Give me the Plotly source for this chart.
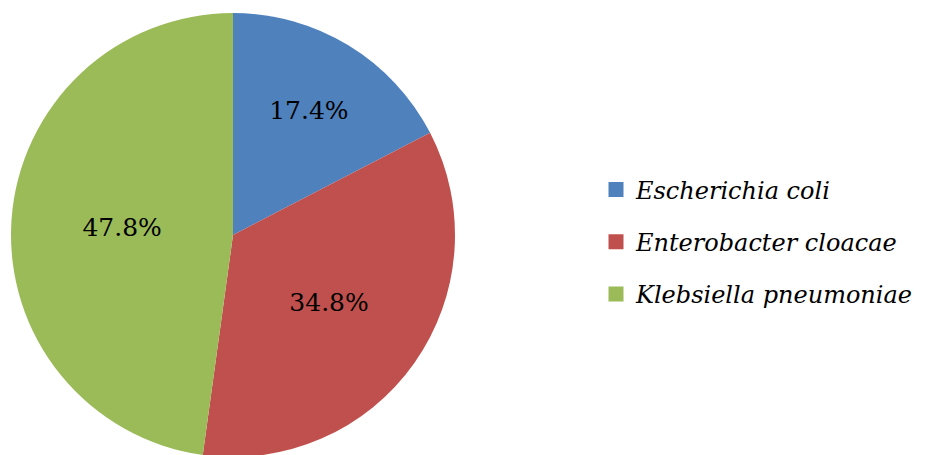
import plotly.graph_objects as go

categories = ["Escherichia coli", "Enterobacter cloacae", "Klebsiella pneumoniae"]
counts = [4, 8, 11]
colors = ["#4F81BD", "#C0504D", "#9BBB59"]

W, H = 931, 455
SERIF = "DejaVu Serif"
fig = go.Figure()
fig.add_trace(go.Pie(
    labels=categories, values=counts, sort=False, direction="clockwise", rotation=0,
    marker=dict(colors=colors, line=dict(width=0)),
    texttemplate="%{percent:.1%}", textposition="inside", insidetextorientation="horizontal",
    textfont=dict(family=SERIF, size=25, color="black"),
    showlegend=False, hoverinfo="label+percent",
    domain=dict(x=[3 / W, 447 / W], y=[6 / H, 450 / H]),
))
for name, col in zip(categories, colors):
    fig.add_trace(go.Scatter(
        x=[None], y=[None], mode="markers", name=name, legendgroup=name,
        marker=dict(symbol="square", size=15, color=col),
    ))

fig.update_layout(
    width=W, height=H,
    margin=dict(l=0, r=0, t=0, b=0, autoexpand=False),
    paper_bgcolor="white", plot_bgcolor="white",
    font=dict(family=SERIF),
    xaxis=dict(visible=False), yaxis=dict(visible=False),
    legend=dict(
        x=588 / W, xanchor="left", y=(H - 234) / H, yanchor="middle",
        font=dict(family=SERIF, size=24, color="black", style="italic"),
        tracegroupgap=18, bgcolor="rgba(0,0,0,0)",
    ),
)
fig.write_html("out.html")
